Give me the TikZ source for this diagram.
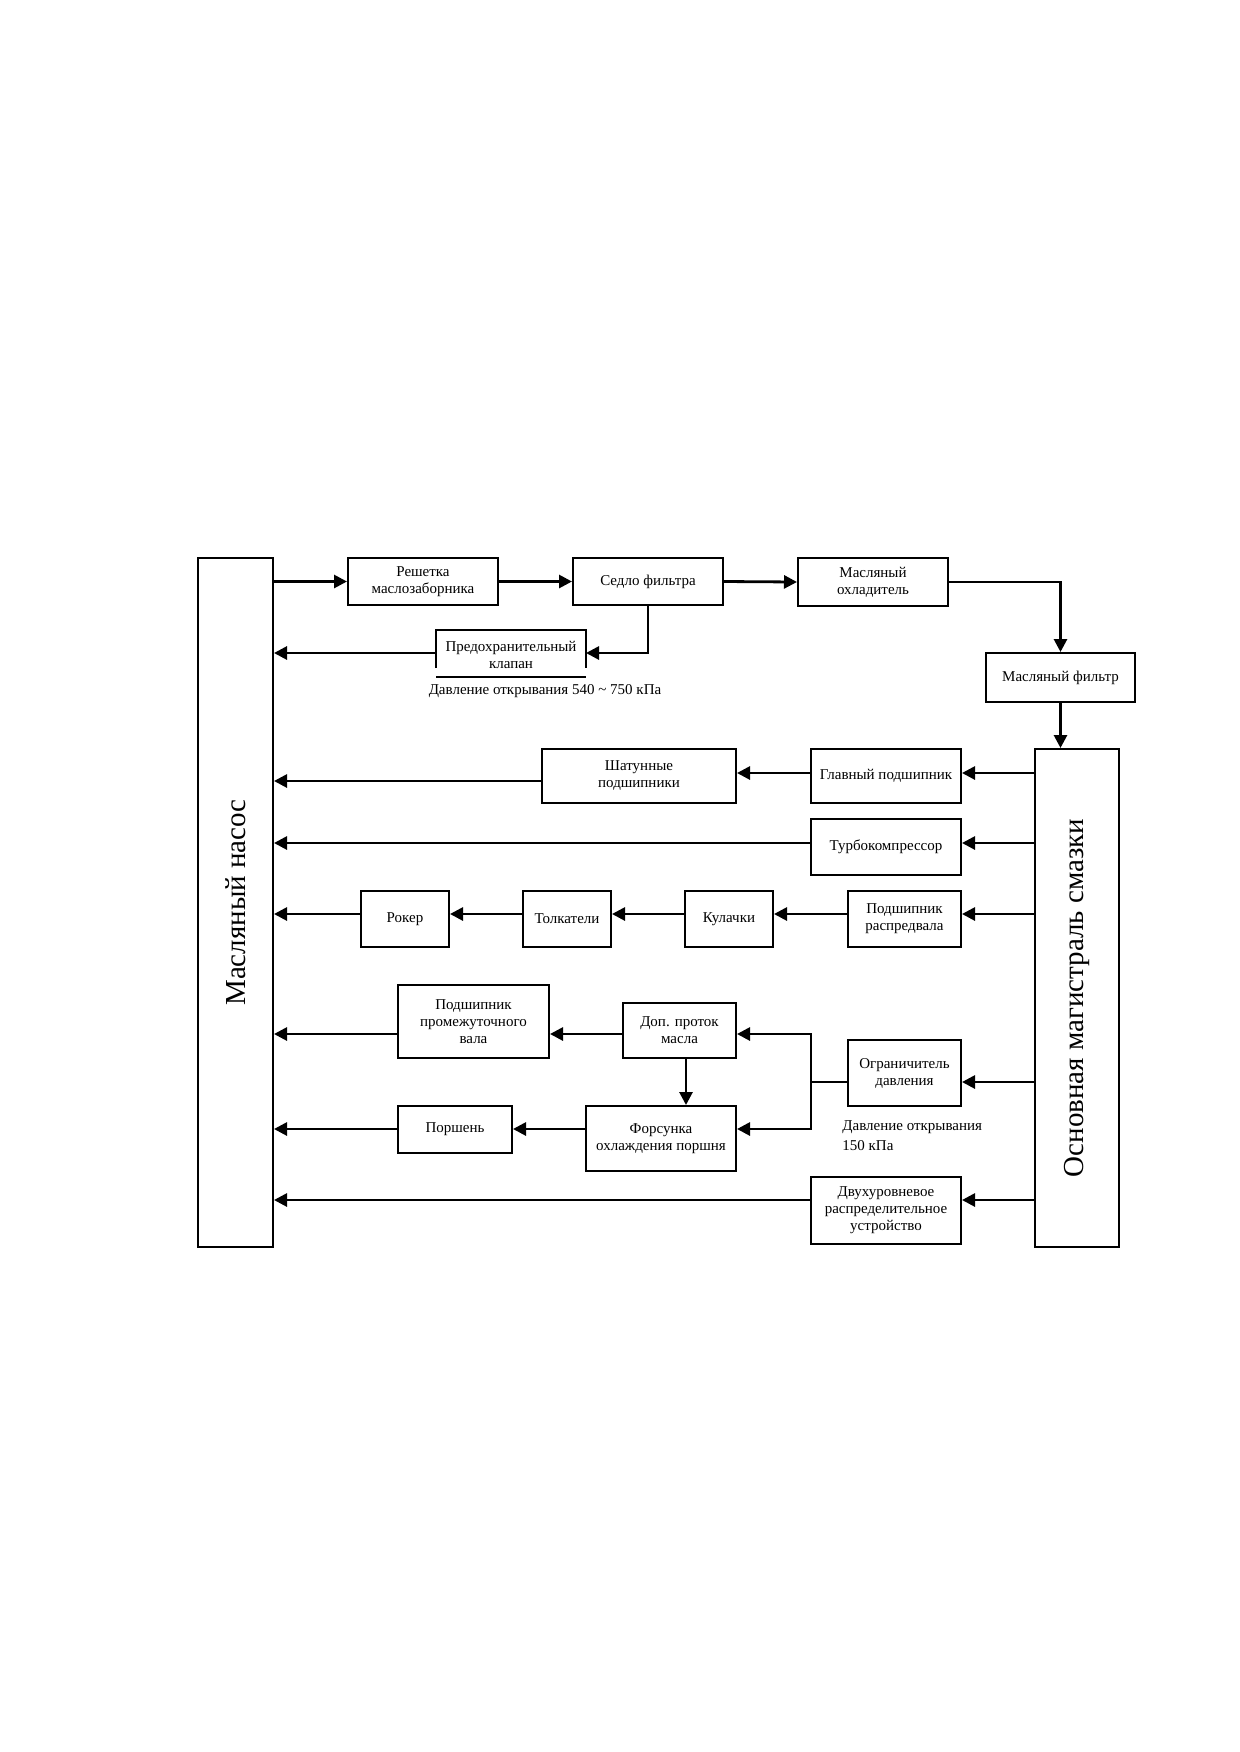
\documentclass[tikz,border=0pt]{standalone}
\usepackage{fontspec}
\setmainfont{Liberation Serif}
\usetikzlibrary{arrows.meta}
\begin{document}
\begin{tikzpicture}[x=0.5pt,y=-0.5pt,
  box/.style={draw, line width=1pt, align=center, inner sep=0pt, font=\fontsize{7.5}{8.5}\selectfont},
  big/.style={draw, line width=1pt, inner sep=0pt, font=\fontsize{14.5}{16}\selectfont},
  lbl/.style={inner sep=0pt, font=\fontsize{7.5}{10}\selectfont},
  arr/.style={line width=1.4pt, -{Triangle[length=6.5pt,width=6.5pt]}},
  ln/.style={line width=1.4pt}]
\useasboundingbox[fill=white] (0,0) rectangle (1239,1752);
% big boxes
\node[big, minimum width=37.5pt, minimum height=344.5pt] (pump) at (235.5,902.5) {\rotatebox{90}{Масляный насос}};
\node[big, minimum width=42pt, minimum height=249pt] (main) at (1077,998) {\rotatebox{90}{Основная магистраль смазки}};
% top row
\node[box, minimum width=75pt, minimum height=23.5pt] (resh) at (423,581.5) {Решетка\\маслозаборника};
\node[box, minimum width=75pt, minimum height=23.5pt] (sedlo) at (648,581.5) {Седло фильтра};
\node[box, minimum width=75pt, minimum height=24pt] (oxl) at (873,582) {Масляный\\охладитель};
\node[box, minimum width=74.5pt, minimum height=24.5pt] (filtr) at (1060.5,677.5) {Масляный фильтр};
% safety valve (open box)
\coordinate (kTL) at (436,630);
\coordinate (kBL) at (436,668);
\coordinate (kTR) at (586,630);
\coordinate (kBR) at (586,668);
\coordinate (kR) at (586,653);
\coordinate (kL) at (436,653);
\draw[line width=1pt] (kBL) -- (kTL) -- (kTR) -- (kBR);
\node[lbl, align=center, font=\fontsize{7.5}{8.5}\selectfont] (klapan) at (511,655) {Предохранительный\\клапан};
\coordinate (uL) at (436,677);
\coordinate (uR) at (586,677);
\draw[line width=1pt] (uL) -- (uR);
\node[lbl] (p1) at (545,691) {Давление открывания 540 \char"7E{} 750 кПа};
% rows
\node[box, minimum width=97pt, minimum height=27pt] (shat) at (639,776) {Шатунные\\подшипники};
\node[box, minimum width=75pt, minimum height=27pt] (glav) at (886,776) {Главный подшипник};
\node[box, minimum width=75pt, minimum height=28pt] (turbo) at (886,847) {Турбокомпрессор};
\node[box, minimum width=56.5pt, minimum height=28pt] (prasp) at (904.5,919) {Подшипник\\распредвала};
\node[box, minimum width=44pt, minimum height=28pt] (kul) at (729,919) {Кулачки};
\node[box, minimum width=44pt, minimum height=28pt] (tolk) at (567,919) {Толкатели};
\node[box, minimum width=44pt, minimum height=28pt] (rok) at (405,919) {Рокер};
\node[box, minimum width=75.5pt, minimum height=36.5pt] (prom) at (473.5,1021.5) {Подшипник\\промежуточного\\вала};
\node[box, minimum width=56.5pt, minimum height=27.5pt] (dop) at (679.5,1030.5) {Доп. проток\\масла};
\node[box, minimum width=75pt, minimum height=32.5pt] (fors) at (661,1138.5) {Форсунка\\охлаждения поршня};
\node[box, minimum width=57pt, minimum height=23.5pt] (porsh) at (455,1129.5) {Поршень};
\node[box, minimum width=56.5pt, minimum height=33pt] (ogr) at (904.5,1073) {Ограничитель\\давления};
\node[lbl, anchor=west, align=left, font=\fontsize{7.5}{10}\selectfont] (p2) at (842,1136) {Давление открывания\\150 кПа};
\node[box, minimum width=75pt, minimum height=33.5pt] (dvuh) at (886,1210.5) {Двухуровневое\\распределительное\\устройство};
% connectors top
\draw[arr] (resh.west -| pump.east) -- (resh.west);
\draw[arr] (resh.east) -- (sedlo.west);
\draw[arr] (sedlo.east) -- (oxl.west);
\draw[arr] (oxl.east) -| (filtr.north);
\draw[arr] (filtr.south) -- (filtr.south |- main.north);
\draw[arr] (sedlo.south) |- (kR);
\draw[arr] (kL) -- (kL -| pump.east);
% rows
\coordinate (y1) at (0,773);
\coordinate (y1b) at (0,781);
\draw[arr] (main.west |- y1) -- (glav.east |- y1);
\draw[arr] (glav.west |- y1) -- (shat.east |- y1);
\draw[arr] (shat.west |- y1b) -- (pump.east |- y1b);
\coordinate (y2) at (0,843);
\draw[arr] (main.west |- y2) -- (turbo.east |- y2);
\draw[arr] (turbo.west |- y2) -- (pump.east |- y2);
\coordinate (y3) at (0,914);
\draw[arr] (main.west |- y3) -- (prasp.east |- y3);
\draw[arr] (prasp.west |- y3) -- (kul.east |- y3);
\draw[arr] (kul.west |- y3) -- (tolk.east |- y3);
\draw[arr] (tolk.west |- y3) -- (rok.east |- y3);
\draw[arr] (rok.west |- y3) -- (pump.east |- y3);
% pressure limiter branch
\coordinate (y4) at (0,1082);
\coordinate (jn) at (811,1082);
\coordinate (y5) at (0,1034);
\coordinate (y6) at (0,1129);
\draw[arr] (main.west |- y4) -- (ogr.east |- y4);
\draw[ln] (ogr.west |- y4) -- (jn);
\draw[arr] (jn) |- (dop.east |- y5);
\draw[arr] (jn) |- (fors.east |- y6);
\coordinate (dx) at (686,0);
\draw[arr] (dop.south -| dx) -- (fors.north -| dx);
\draw[arr] (dop.west |- y5) -- (prom.east |- y5);
\draw[arr] (prom.west |- y5) -- (pump.east |- y5);
\draw[arr] (fors.west |- y6) -- (porsh.east |- y6);
\draw[arr] (porsh.west |- y6) -- (pump.east |- y6);
\coordinate (y7) at (0,1200);
\draw[arr] (main.west |- y7) -- (dvuh.east |- y7);
\draw[arr] (dvuh.west |- y7) -- (pump.east |- y7);
\end{tikzpicture}
\end{document}
